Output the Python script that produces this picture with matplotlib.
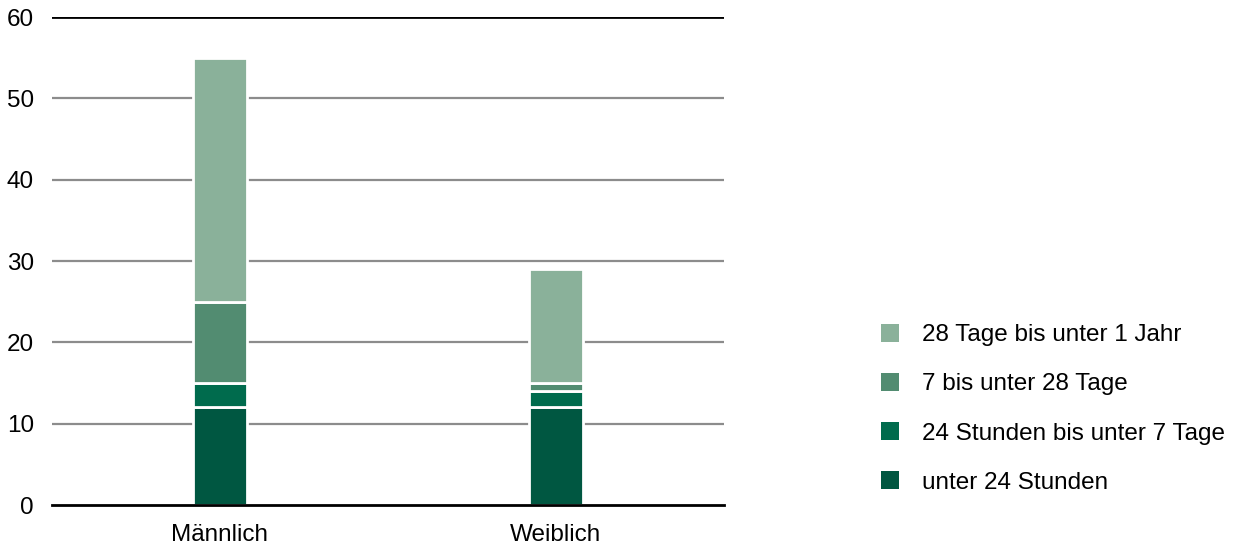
import numpy as np
import matplotlib
matplotlib.use('Agg')
import matplotlib.pyplot as plt

plt.rcParams['font.family'] = ['Liberation Sans', 'DejaVu Sans']

categories = ['Männlich', 'Weiblich']
series_names = ['unter 24 Stunden', '24 Stunden bis unter 7 Tage',
                '7 bis unter 28 Tage', '28 Tage bis unter 1 Jahr']
values = {
    'unter 24 Stunden': [12, 12],
    '24 Stunden bis unter 7 Tage': [3, 2],
    '7 bis unter 28 Tage': [10, 1],
    '28 Tage bis unter 1 Jahr': [30, 14],
}
colors = ['#005741', '#006B4D', '#528C71', '#8AB19A']
yticks = [0, 10, 20, 30, 40, 50, 60]

fig = plt.figure(figsize=(12.35, 5.54), dpi=100)
ax = fig.add_axes([0.0421, 0.0884, 0.544, 0.8809])

x = np.arange(len(categories))
bottom = np.zeros(len(categories))
handles = []
for name, col in zip(series_names, colors):
    vals = np.array(values[name], dtype=float)
    b = ax.bar(x, vals, width=0.16, bottom=bottom, color=col,
               edgecolor='white', linewidth=2, zorder=3, label=name)
    handles.append(b)
    bottom += vals

# grey grid lines in between, black lines at 0 and 60
for t in yticks[1:-1]:
    ax.axhline(t, color='#8c8c8c', linewidth=1.6, zorder=1)
ax.axhline(yticks[-1], color='black', linewidth=2, zorder=1)

ax.set_xlim(-0.5, 1.5)
ax.set_ylim(0, 60)
ax.set_yticks(yticks)
ax.set_xticks(x)
ax.set_xticklabels(categories)
ax.tick_params(axis='y', length=0, pad=13, labelsize=17.5)
ax.tick_params(axis='x', length=0, pad=14, labelsize=17.5)

for s in ['left', 'right', 'top']:
    ax.spines[s].set_visible(False)
ax.spines['bottom'].set_color('black')
ax.spines['bottom'].set_linewidth(2)
ax.spines['bottom'].set_zorder(4)

leg = fig.legend(handles[::-1], series_names[::-1], loc='center left',
                 bbox_to_anchor=(0.7035, 0.262), frameon=False, fontsize=17.5,
                 handlelength=0.75, handleheight=0.75, handletextpad=0.95,
                 labelspacing=1.1, borderpad=0)
for h in leg.legend_handles:
    h.set_edgecolor('none')

fig.savefig('out.png', dpi=100)
